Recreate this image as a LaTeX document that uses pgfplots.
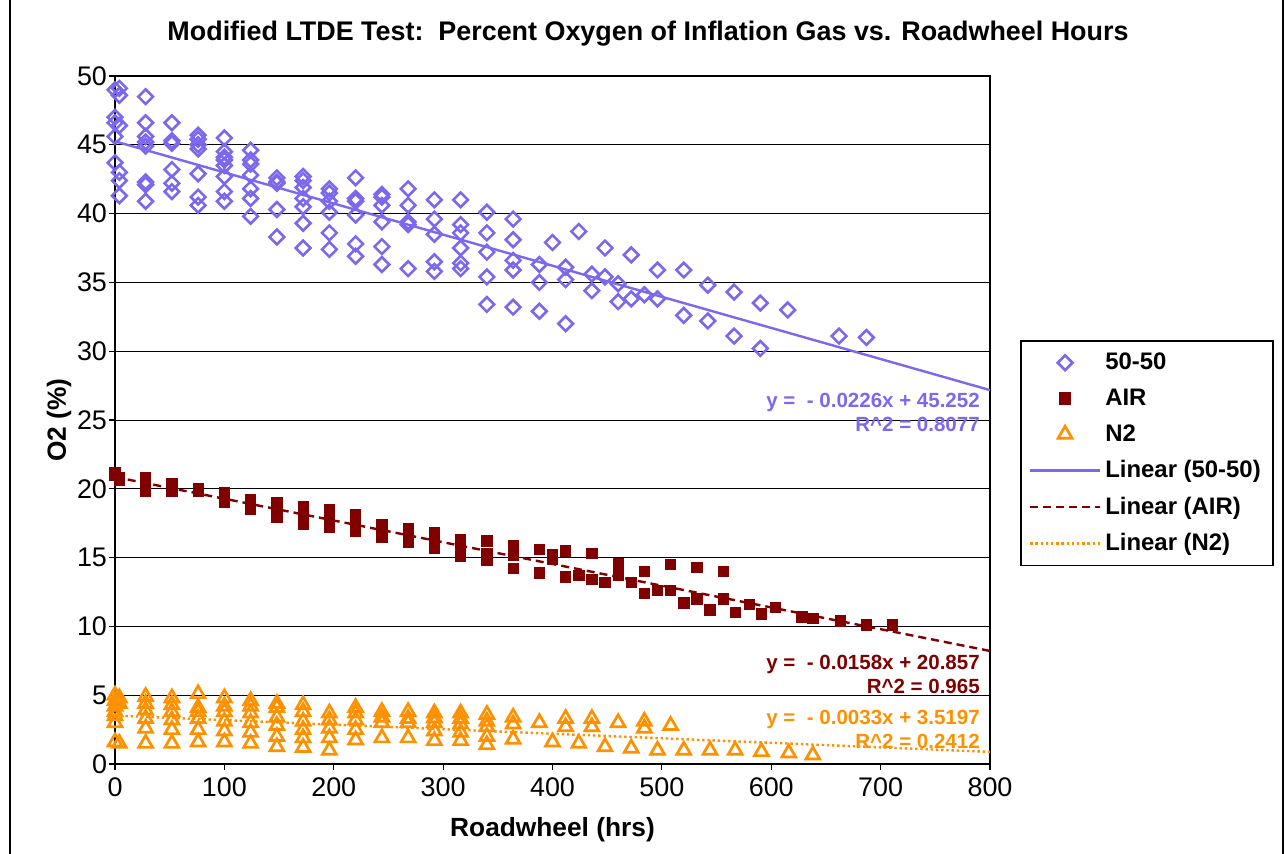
\documentclass[border=0pt]{standalone}
\usepackage{pgfplots}
\pgfplotsset{compat=1.18}
\usepackage{fontspec}
\setmainfont{Liberation Sans}
\definecolor{fifty}{RGB}{123,104,238}
\definecolor{air}{RGB}{128,0,0}
\definecolor{ntwo}{RGB}{255,145,0}
\begin{document}
\begin{tikzpicture}
\path[use as bounding box] (0,0) rectangle (642.5bp,427bp);
\draw[line width=0.8bp] (5bp,0) -- (5bp,427bp);
\draw[line width=0.8bp] (641.5bp,0) -- (641.5bp,427bp);
\node[font=\bfseries\fontsize{13.5}{15}\selectfont] at (324bp,410bp)
  {Modified LTDE Test:\ \ Percent Oxygen of Inflation Gas vs. Roadwheel Hours};
\begin{axis}[
  at={(57.5bp,45bp)}, anchor=south west,
  scale only axis, width=437.5bp, height=344bp,
  xmin=0, xmax=800, ymin=0, ymax=50,
  xtick={0,100,...,800}, ytick={0,5,...,50},
  ymajorgrids, major grid style={black, line width=0.5bp},
  axis line style={black, line width=0.9bp},
  tick style={black, line width=0.6bp},
  tick align=outside, major tick length=3bp, tick pos=left,
  tick label style={font=\fontsize{13.5}{15}\selectfont},
  /pgf/number format/assume math mode=true,
  xticklabel style={yshift=-0.5bp},
  yticklabel style={xshift=2.5bp},
  xlabel={Roadwheel (hrs)}, ylabel={O2 (\%)},
  label style={font=\bfseries\fontsize{13.2}{15}\selectfont},
  xlabel style={at={(axis description cs:0.5,0)}, anchor=center, yshift=-33bp},
  ylabel style={at={(axis description cs:0,0.5)}, anchor=center, yshift=28bp},
  clip=false,
  legend image code/.code={\draw[mark repeat=2,mark phase=2,#1] plot coordinates {(0bp,0bp) (17.5bp,0bp) (35bp,0bp)};},
  legend style={at={(1.0343,0.6163)}, anchor=north west, draw=black, line width=0.9bp,
    font=\bfseries\fontsize{12}{13}\selectfont, row sep=4.1bp, inner xsep=4bp, inner ysep=4bp,
    /tikz/every even column/.append style={column sep=4bp}},
  legend cell align=left,
]
% 50-50
\addplot[only marks, mark=square, mark size=2.6bp, color=fifty, mark options={rotate=45, line width=1.3bp}] coordinates {
(0,49.0)(4,49.1)(4,48.6)(0,47.0)(0,46.6)(4,46.4)(0,45.6)(0,43.7)(4,43.0)(4,42.4)(4,41.3)
(28,48.5)(28,46.6)(28,45.6)(28,45.2)(28,44.9)(28,42.3)(28,42.1)(28,40.9)
(52,46.6)(52,45.3)(52,45.1)(52,43.2)(52,42.2)(52,41.6)
(76,45.7)(76,45.4)(76,45.0)(76,44.7)(76,42.9)(76,41.2)(76,40.6)
(100,45.5)(100,44.5)(100,44.1)(100,43.9)(100,43.5)(100,42.7)(100,41.6)(100,40.9)
(124,44.6)(124,43.9)(124,43.6)(124,42.8)(124,41.8)(124,41.1)(124,39.8)
(148,42.6)(148,42.3)(148,42.2)(148,40.3)(148,38.3)
(172,42.7)(172,42.4)(172,41.9)(172,41.1)(172,40.5)(172,39.3)(172,37.5)
(196,41.8)(196,41.5)(196,40.9)(196,40.1)(196,38.6)(196,37.4)
(220,42.6)(220,41.1)(220,40.9)(220,39.9)(220,37.8)(220,36.9)
(244,41.4)(244,41.2)(244,40.6)(244,39.4)(244,37.6)(244,36.3)
(268,41.8)(268,40.6)(268,39.4)(268,39.2)(268,36.0)
(292,41.0)(292,39.6)(292,38.5)(292,36.5)(292,35.8)
(316,41.0)(316,39.2)(316,38.6)(316,37.5)(316,36.4)(316,36.0)
(340,40.1)(340,38.6)(340,37.2)(340,35.4)(340,33.4)
(364,39.6)(364,38.1)(364,36.6)(364,35.9)(364,33.2)
(388,36.3)(388,35.0)(388,32.9)
(400,37.9)
(412,36.1)(412,35.2)(412,32.0)
(424,38.7)
(436,35.6)(436,34.4)
(448,37.5)(448,35.4)
(460,34.9)(460,33.6)
(472,37.0)(472,33.8)
(484,34.1)
(496,35.9)(496,33.8)
(520,35.9)(520,32.6)
(542,34.8)(542,32.2)
(566,34.3)(566,31.1)
(590,33.5)(590,30.2)
(615,33.0)
(662,31.1)
(687,31.0)
};
\addlegendentry{50-50}
% AIR
\addplot[only marks, mark=square*, mark size=2.6bp, color=air] coordinates {
(0,21.2)(0,21.0)(4,20.8)(4,20.6)
(28,20.8)(28,20.5)(28,20.2)(28,19.8)
(52,20.4)(52,20.1)(52,19.8)
(76,20.0)(76,19.8)
(100,19.7)(100,19.4)(100,19.0)
(124,19.2)(124,18.9)(124,18.5)
(148,19.0)(148,18.6)(148,18.2)(148,17.9)
(172,18.7)(172,18.2)(172,17.8)(172,17.4)
(196,18.5)(196,18.0)(196,17.6)(196,17.2)
(220,18.1)(220,17.4)(220,16.9)
(244,17.4)(244,16.9)(244,16.5)
(268,17.1)(268,16.6)(268,16.1)
(292,16.8)(292,16.2)(292,15.7)
(316,16.3)(316,15.7)(316,15.1)
(340,16.2)(340,15.3)(340,14.8)
(364,15.9)(364,15.5)(364,15.2)(364,14.2)
(388,15.6)(388,13.9)
(400,15.2)(400,14.9)
(412,15.5)(412,13.6)
(424,13.7)
(436,15.3)(436,13.4)
(448,13.2)
(460,14.6)(460,14.1)(460,13.7)
(472,13.2)
(484,14.0)(484,12.4)
(496,12.6)
(508,14.5)(508,12.6)
(520,11.7)
(532,14.3)(532,12.0)
(544,11.2)
(556,14.0)(556,12.0)
(567,11.0)
(580,11.6)
(591,10.9)
(604,11.4)
(628,10.7)
(638,10.6)
(663,10.4)
(687,10.1)
(711,10.1)
};
\addlegendentry{AIR}
% N2
\addplot[only marks, mark=triangle, mark size=4bp, color=ntwo, mark options={line width=1.35bp}] coordinates {
(0,5.0)(0,4.6)(0,4.2)(0,3.8)(0,3.5)(0,3.0)(0,1.6)(4,4.8)(4,4.4)(4,1.5)
(28,4.9)(28,4.4)(28,3.9)(28,3.3)(28,2.6)(28,1.5)
(52,4.8)(52,4.3)(52,3.8)(52,3.2)(52,2.5)(52,1.5)
(76,5.1)(76,4.1)(76,3.8)(76,3.3)(76,2.5)(76,1.6)
(100,4.8)(100,4.2)(100,3.8)(100,3.1)(100,2.4)(100,1.6)
(124,4.6)(124,4.2)(124,3.7)(124,3.0)(124,2.3)(124,1.5)
(148,4.4)(148,4.1)(148,3.4)(148,2.8)(148,2.0)(148,1.25)
(172,4.3)(172,3.8)(172,3.1)(172,2.5)(172,1.9)(172,1.2)
(196,3.7)(196,3.2)(196,2.6)(196,1.9)(196,1.0)
(220,4.1)(220,3.7)(220,3.2)(220,2.5)(220,1.75)
(244,3.8)(244,3.4)(244,3.0)(244,1.9)
(268,3.8)(268,3.3)(268,3.0)(268,1.9)
(292,3.7)(292,3.35)(292,3.0)(292,2.4)(292,1.7)
(316,3.7)(316,3.3)(316,2.9)(316,2.3)(316,1.7)
(340,3.6)(340,3.1)(340,2.7)(340,2.0)(340,1.4)
(364,3.4)(364,2.9)(364,1.8)
(388,3.0)
(400,1.6)
(412,3.3)(412,2.7)
(424,1.5)
(436,3.3)(436,2.7)
(448,1.25)
(460,3.0)
(472,1.15)
(484,3.1)(484,2.6)
(496,1.0)
(508,2.8)
(520,1.0)
(544,1.0)
(567,1.0)
(591,0.9)
(616,0.8)
(638,0.65)
};
\addlegendentry{N2}
% trend lines
\addplot[fifty, line width=1.2bp] coordinates {(0,45.252) (800,27.172)};
\addlegendentry{Linear (50-50)}
\addplot[air, line width=1.2bp, dash pattern=on 4bp off 2.5bp] coordinates {(0,20.857) (800,8.217)};
\addlegendentry{Linear (AIR)}
\addplot[ntwo, line width=1.2bp, dash pattern=on 1.2bp off 1.4bp] coordinates {(0,3.5197) (800,0.8797)};
\addlegendentry{Linear (N2)}
% equations
\begin{scope}[font=\bfseries\fontsize{10.3}{12}\selectfont, inner sep=0pt]
\node[fifty, anchor=east] at (axis cs:791,26.3) {y =\ \ - 0.0226x + 45.252};
\node[fifty, anchor=east] at (axis cs:791,24.7) {R\^{}2 = 0.8077};
\node[air, anchor=east] at (axis cs:791,7.27) {y =\ \ - 0.0158x + 20.857};
\node[air, anchor=east] at (axis cs:791,5.67) {R\^{}2 = 0.965};
\node[ntwo, anchor=east] at (axis cs:791,3.27) {y =\ \ - 0.0033x + 3.5197};
\node[ntwo, anchor=east] at (axis cs:791,1.67) {R\^{}2 = 0.2412};
\end{scope}
\end{axis}
\end{tikzpicture}
\end{document}
